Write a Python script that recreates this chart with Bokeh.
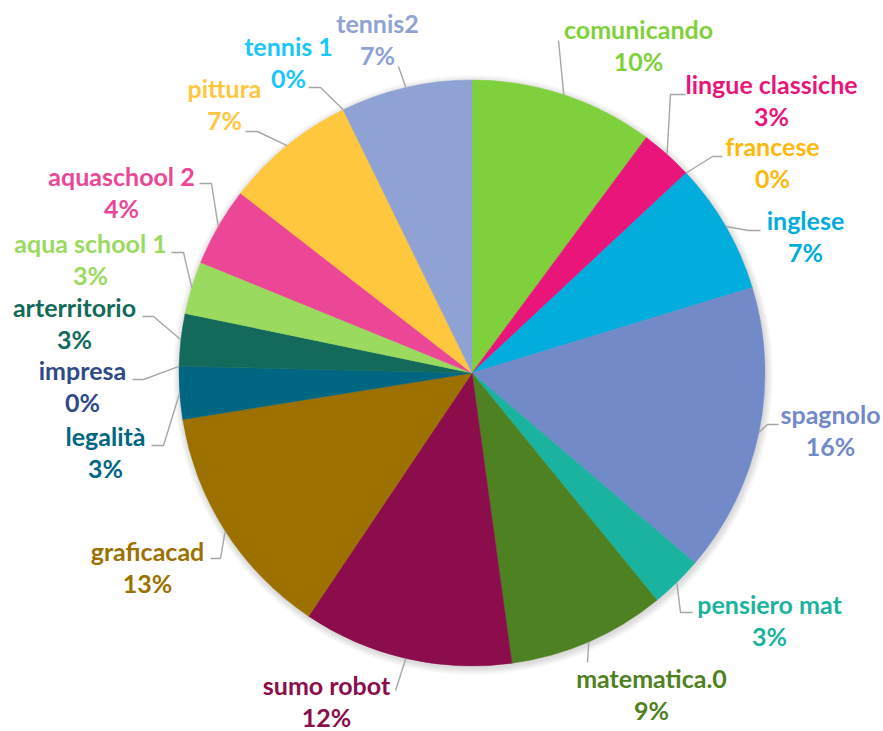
import math
from bokeh.plotting import figure
from bokeh.models import Range1d, ColumnDataSource
from bokeh.core.properties import value
from bokeh.embed import file_html
from bokeh.resources import INLINE

# ---------------- data ----------------
categories = ["comunicando", "lingue classiche", "francese", "inglese", "spagnolo",
              "pensiero mat", "matematica.0", "sumo robot", "graficacad", "legalità",
              "impresa", "arterritorio", "aqua school 1", "aquaschool 2", "pittura",
              "tennis 1", "tennis2"]
counts = [7, 2, 0, 5, 11, 2, 6, 8, 9, 2, 0, 2, 2, 3, 5, 0, 5]
colors = ["#7FD13B", "#EA157A", "#FEB80A", "#00ADDC", "#738AC8",
          "#1AB39F", "#4E8122", "#8B0D4B", "#9D7100", "#006682",
          "#2E4A87", "#146A5A", "#9ADA5F", "#EC4696", "#FFC73E",
          "#1BC6F8", "#8EA3D3"]

# ---------------- label layout (page pixels) ----------------
label_cx = [638, 771, 772, 805, 830, 769, 651, 326, 147, 105, 82, 74, 90, 121, 224, 288, 377]
label_by = [38, 93, 155, 229, 423, 613, 687, 694, 560, 445, 379, 316, 252, 185, 97, 55, 32]
elbow_x = [558, 670, 712, 748, 767, 680, 587, 395, 220, 163, 143, 153, 183, 211, 257, 320, 398]
elbow_y = [40, 94, 156, 230, 424, 612, 662, 690, 558, 445, 379, 316, 252, 183, 131, 87, 66]
stub_x = [558, 685, 722, 760, 778, 692, 587, 395, 210, 151, 132, 142, 171, 199, 245, 308, 398]

W, H = 883, 731
PAGE_H = 731
CX, CY_PX, R = 471.5, 372.5, 293
CY = PAGE_H - CY_PX
TEXT_SHIFT = 10  # renderer places alphabetic baseline this much lower


def Y(py):
    return PAGE_H - py


p = figure(width=W, height=H, output_backend="svg", toolbar_location=None,
           x_range=Range1d(0, W), y_range=Range1d(PAGE_H - H, PAGE_H),
           min_border=0)
p.axis.visible = False
p.grid.visible = False
p.outline_line_color = None
p.background_fill_color = "white"

# soft shadow
for k in range(1, 8):
    p.circle(x=[CX + 1], y=[CY - 2], radius=R + k, fill_color="black",
             fill_alpha=0.018, line_color=None)

total = sum(counts)
cum = 0
starts, ends, mids = [], [], []
for v in counts:
    a0 = cum / total
    cum += v
    a1 = cum / total
    starts.append(math.pi / 2 - 2 * math.pi * a0)
    ends.append(math.pi / 2 - 2 * math.pi * a1)
    mids.append((a0 + a1) / 2)

nz = [i for i, v in enumerate(counts) if v > 0]
p.wedge(x=[CX for i in nz], y=[CY for i in nz], radius=R,
        start_angle=[starts[i] for i in nz], end_angle=[ends[i] for i in nz],
        direction="clock", fill_color=[colors[i] for i in nz],
        line_color=[colors[i] for i in nz], line_width=0.5)

# leader lines
xs, ys = [], []
for i in range(len(counts)):
    th = 2 * math.pi * mids[i]
    px = CX + R * math.sin(th)
    py = CY + R * math.cos(th)
    xs.append([px, elbow_x[i], stub_x[i]])
    ys.append([py, Y(elbow_y[i]), Y(elbow_y[i])])
p.multi_line(xs=xs, ys=ys, line_color="#A6A6A6", line_width=1.4)

# labels
pcts = [f"{round(100 * v / total)}%" for v in counts]
LINE = 32
tsrc = ColumnDataSource(dict(
    x=label_cx + label_cx,
    y=[Y(b - TEXT_SHIFT) for b in label_by] + [Y(b + LINE - TEXT_SHIFT) for b in label_by],
    t=categories + pcts,
    c=colors + colors))
p.text(x="x", y="y", text="t", text_color="c", source=tsrc,
       text_align="center", text_baseline="alphabetic",
       text_font=value("Lato"), text_font_style="bold", text_font_size="25px")

open("out.html", "w").write(file_html(p, INLINE))
